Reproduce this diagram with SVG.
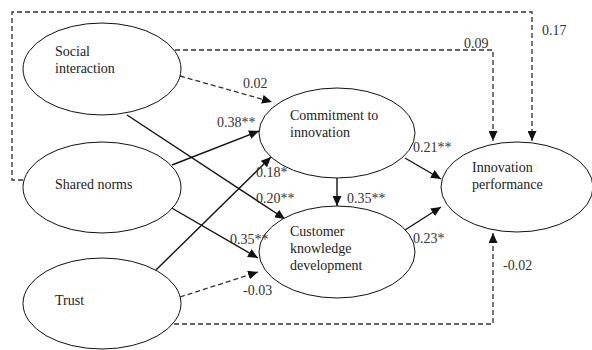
<svg xmlns="http://www.w3.org/2000/svg" width="592" height="350" viewBox="0 0 592 350">
<defs>
<marker id="ah" markerUnits="userSpaceOnUse" markerWidth="11" markerHeight="9" refX="10" refY="4.5" orient="auto">
<path d="M0,0 L10,4.5 L0,9 z" fill="#111"/>
</marker>
</defs>
<rect width="592" height="350" fill="#fff"/>
<g id="connectors" fill="none" marker-end="url(#ah)">
<g stroke="#333" stroke-width="1.3" stroke-dasharray="5,3">
<path d="M23,180 H12 V12 H532 V141"/>
<path d="M175,50 H493 V141"/>
<path d="M180,76 L272,102"/>
<path d="M180,297 L258,272"/>
<path d="M174,324 H493 V233"/>
</g>
<g stroke="#111" stroke-width="1.4">
<path d="M127,115 L285,219"/>
<path d="M172,165 L259,131"/>
<path d="M156,270 L271,157"/>
<path d="M170,207 L258,258"/>
<path d="M337,178 V206"/>
<path d="M405,158 L441,179"/>
<path d="M405,230 L441,207"/>
</g>
</g>
<g id="social">
<ellipse cx="102" cy="69" rx="79" ry="46" fill="#fff" stroke="#111"/>
<text x="55" y="56" font-family="Liberation Serif" font-size="14" fill="#222">Social</text>
<text x="55" y="73" font-family="Liberation Serif" font-size="14" fill="#222">interaction</text>
</g>
<g id="shared">
<ellipse cx="102" cy="187.5" rx="79" ry="45.5" fill="#fff" stroke="#111"/>
<text x="55" y="189" font-family="Liberation Serif" font-size="14" fill="#222">Shared norms</text>
</g>
<g id="trust">
<ellipse cx="102" cy="303.5" rx="79" ry="45.5" fill="#fff" stroke="#111"/>
<text x="55" y="305" font-family="Liberation Serif" font-size="14" fill="#222">Trust</text>
</g>
<g id="commitment">
<ellipse cx="337" cy="133" rx="78" ry="45" fill="#fff" stroke="#111"/>
<text x="290" y="120" font-family="Liberation Serif" font-size="14" fill="#222">Commitment to</text>
<text x="290" y="137" font-family="Liberation Serif" font-size="14" fill="#222">innovation</text>
</g>
<g id="customer">
<ellipse cx="337" cy="252" rx="78" ry="46" fill="#fff" stroke="#111"/>
<text x="290" y="236" font-family="Liberation Serif" font-size="14" fill="#222">Customer</text>
<text x="290" y="253" font-family="Liberation Serif" font-size="14" fill="#222">knowledge</text>
<text x="290" y="270" font-family="Liberation Serif" font-size="14" fill="#222">development</text>
</g>
<g id="performance">
<ellipse cx="517" cy="187" rx="76" ry="45" fill="#fff" stroke="#111"/>
<text x="472" y="172" font-family="Liberation Serif" font-size="14" fill="#222">Innovation</text>
<text x="472" y="189" font-family="Liberation Serif" font-size="14" fill="#222">performance</text>
</g>
<g id="labels">
<text x="542" y="35" font-family="Liberation Serif" font-size="14" fill="#333">0.17</text>
<text x="464" y="48" font-family="Liberation Serif" font-size="14" fill="#333">0.09</text>
<text x="243" y="88" font-family="Liberation Serif" font-size="14" fill="#333">0.02</text>
<text x="217" y="127" font-family="Liberation Serif" font-size="14" fill="#333">0.38**</text>
<text x="256" y="177" font-family="Liberation Serif" font-size="14" fill="#333">0.18*</text>
<text x="256" y="203" font-family="Liberation Serif" font-size="14" fill="#333">0.20**</text>
<text x="230" y="244" font-family="Liberation Serif" font-size="14" fill="#333">0.35**</text>
<text x="243" y="295" font-family="Liberation Serif" font-size="14" fill="#333">-0.03</text>
<text x="413" y="152" font-family="Liberation Serif" font-size="14" fill="#333">0.21**</text>
<text x="347" y="203" font-family="Liberation Serif" font-size="14" fill="#333">0.35**</text>
<text x="413" y="243" font-family="Liberation Serif" font-size="14" fill="#333">0.23*</text>
<text x="503" y="270" font-family="Liberation Serif" font-size="14" fill="#333">-0.02</text>
</g>
</svg>
